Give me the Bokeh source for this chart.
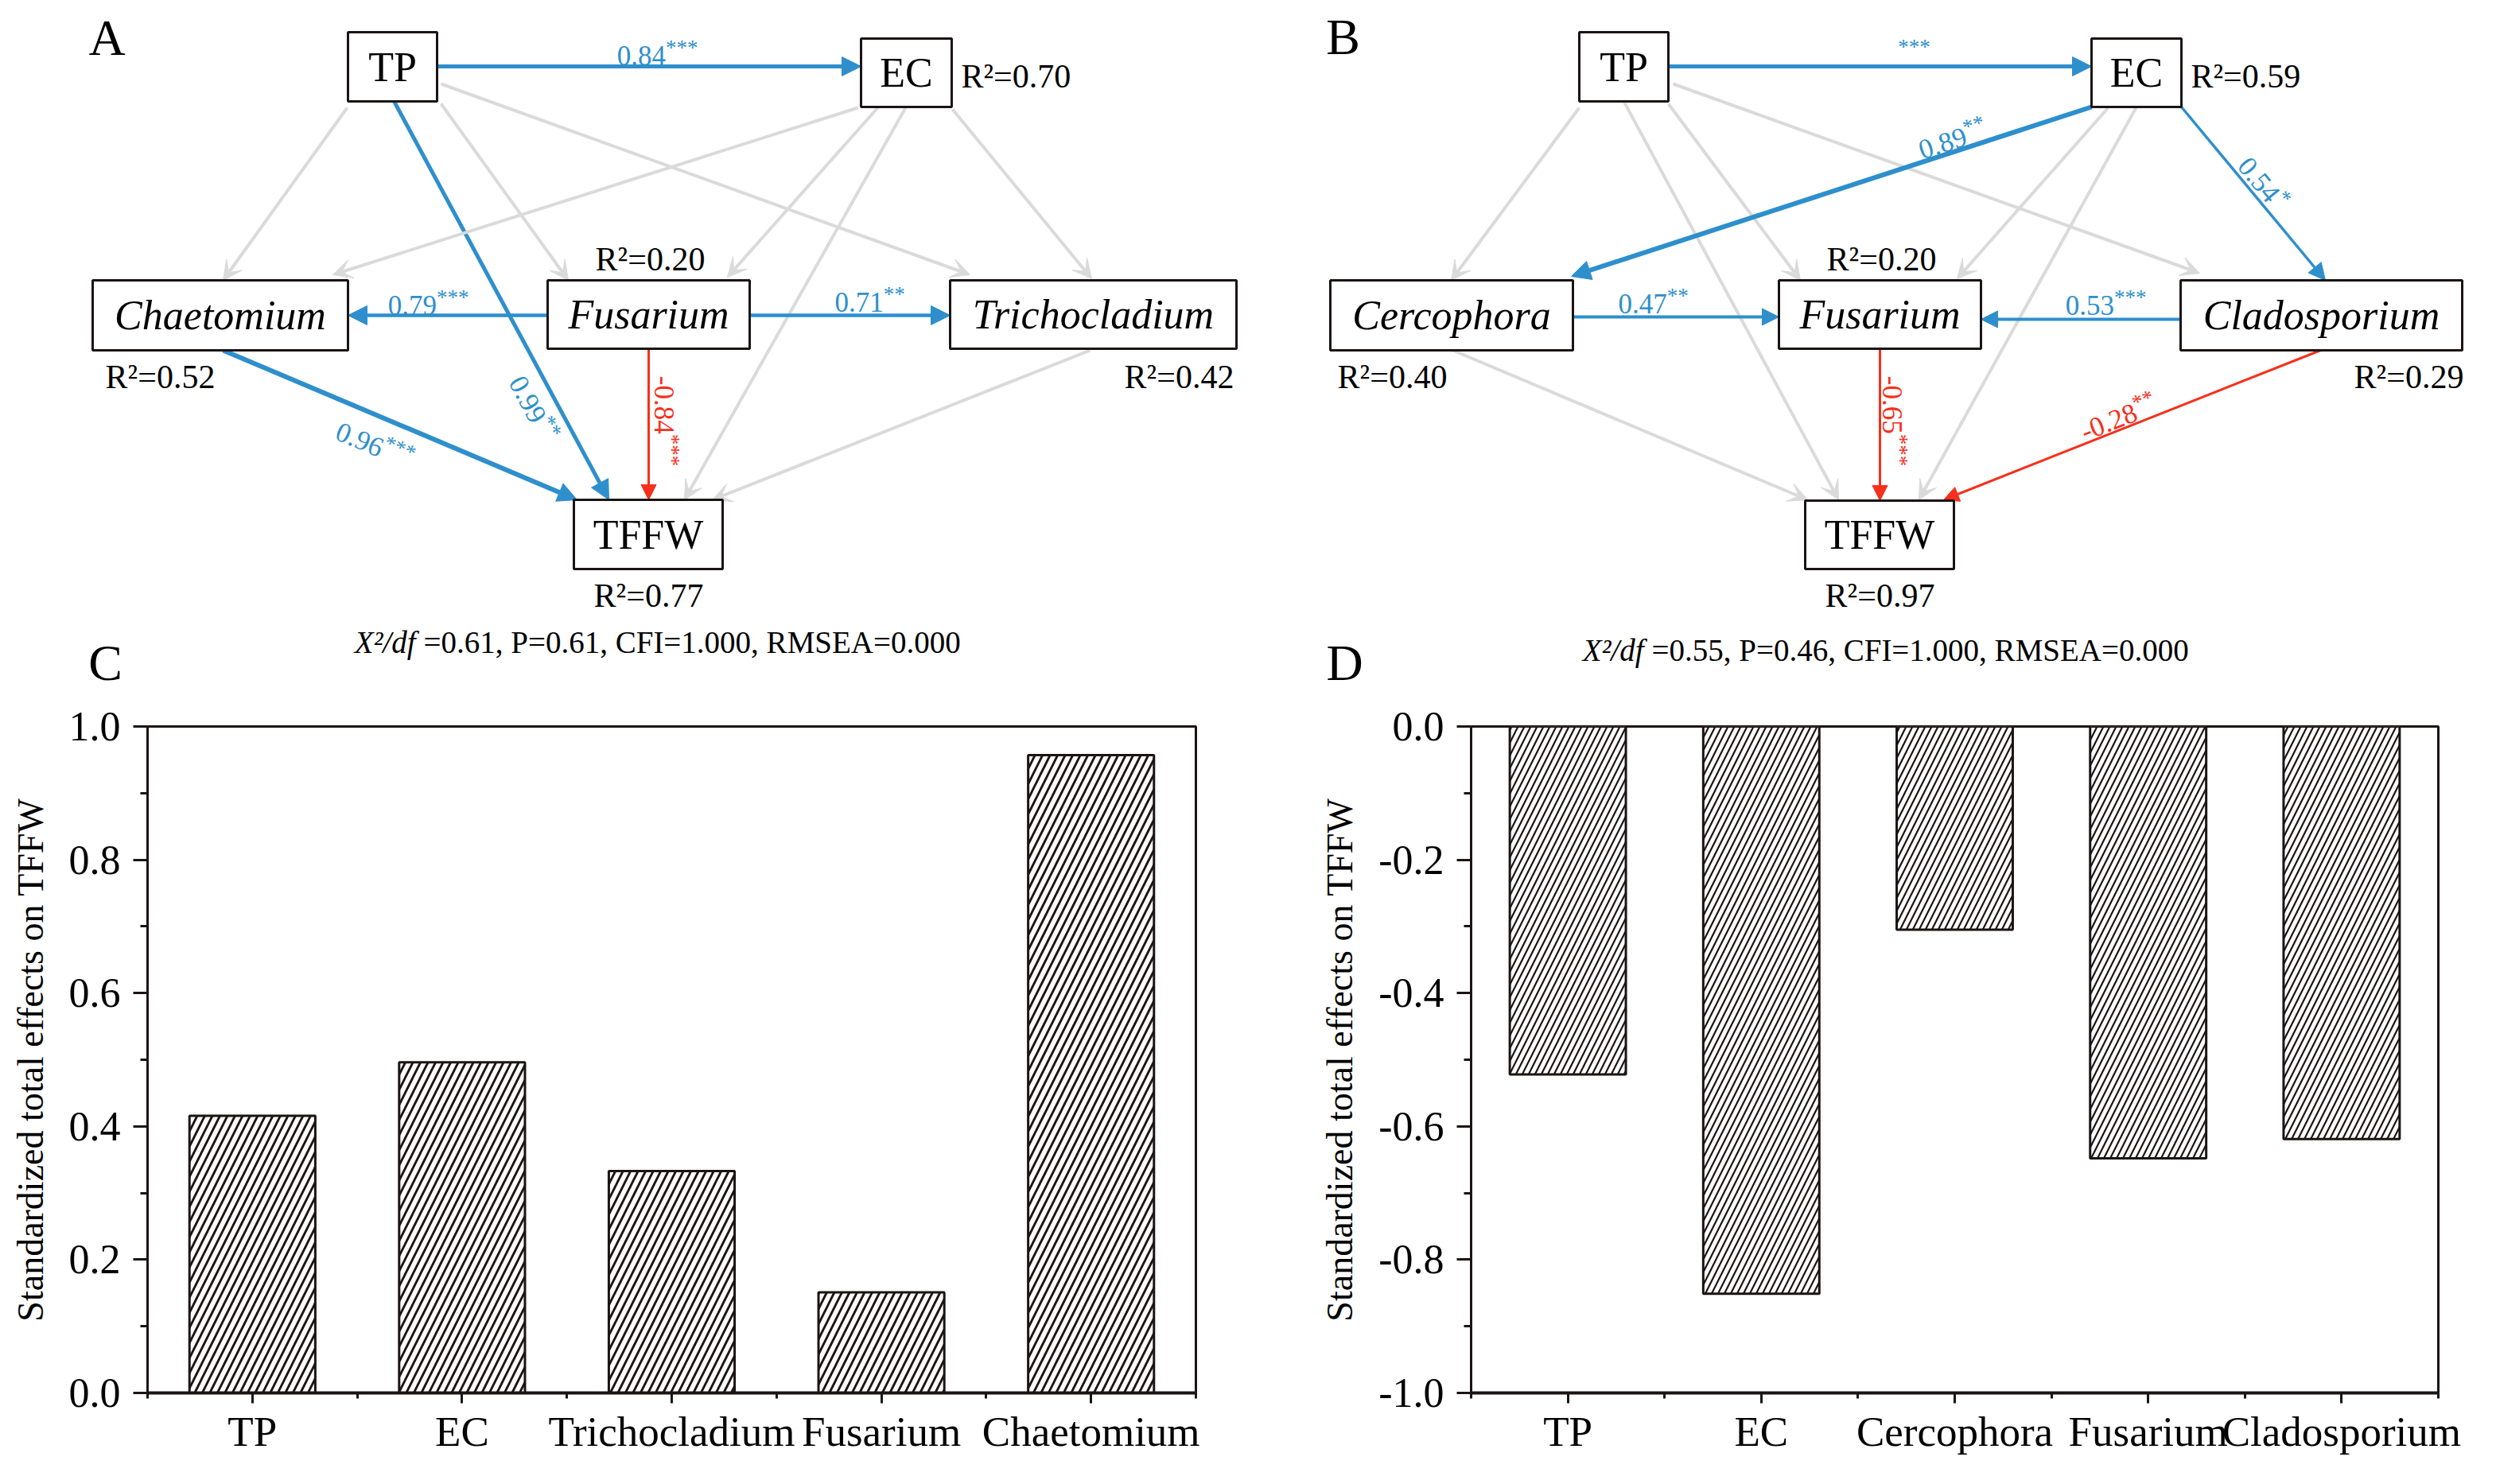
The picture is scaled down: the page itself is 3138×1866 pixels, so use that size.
import math
from bokeh.plotting import figure
from bokeh.models import (ColumnDataSource, Range1d, Arrow, NormalHead, VeeHead,
                          FixedTicker, PrintfTickFormatter)
from bokeh.layouts import column, row
from bokeh.embed import file_html
from bokeh.resources import INLINE
from bokeh.core.properties import value

# ---------------- data ----------------
A_NODES = ["TP", "EC", "Chaetomium", "Fusarium", "Trichocladium", "TFFW"]
A_R2 = [None, 0.70, 0.52, 0.20, 0.42, 0.77]
B_NODES = ["TP", "EC", "Cercophora", "Fusarium", "Cladosporium", "TFFW"]
B_R2 = [None, 0.59, 0.40, 0.20, 0.29, 0.97]
ITALIC_NODES = {"Chaetomium", "Fusarium", "Trichocladium", "Cercophora", "Cladosporium"}

A_EDGE_FROM = ["TP", "TP", "TP", "TP", "TP", "EC", "EC", "EC", "EC",
               "Fusarium", "Fusarium", "Fusarium", "Chaetomium", "Trichocladium"]
A_EDGE_TO = ["EC", "Chaetomium", "Fusarium", "Trichocladium", "TFFW", "Chaetomium",
             "Fusarium", "Trichocladium", "TFFW", "Chaetomium", "Trichocladium",
             "TFFW", "TFFW", "TFFW"]
A_EDGE_COEF = [0.84, None, None, None, 0.99, None, None, None, None, 0.79, 0.71, -0.84, 0.96, None]
A_EDGE_SIG = ["***", "", "", "", "**", "", "", "", "", "***", "**", "***", "***", ""]
A_EDGE_KIND = ["pos", "ns", "ns", "ns", "pos", "ns", "ns", "ns", "ns", "pos", "pos", "neg", "pos", "ns"]

B_EDGE_FROM = ["TP", "TP", "TP", "TP", "TP", "EC", "EC", "EC", "EC",
               "Cercophora", "Cladosporium", "Fusarium", "Cladosporium", "Cercophora"]
B_EDGE_TO = ["EC", "Cercophora", "Fusarium", "Cladosporium", "TFFW", "Cercophora",
             "Cladosporium", "Fusarium", "TFFW", "Fusarium", "Fusarium", "TFFW", "TFFW", "TFFW"]
B_EDGE_COEF = [None, None, None, None, None, 0.89, 0.54, None, None, 0.47, 0.53, -0.65, -0.28, None]
B_EDGE_SIG = ["***", "", "", "", "", "**", "*", "", "", "**", "***", "***", "**", ""]
B_EDGE_KIND = ["pos", "ns", "ns", "ns", "ns", "pos", "pos", "ns", "ns", "pos", "pos", "neg", "neg", "ns"]

A_FIT = [0.61, 0.61, 1.000, 0.000]   # chi2/df, P, CFI, RMSEA
B_FIT = [0.55, 0.46, 1.000, 0.000]

C_CATS = ["TP", "EC", "Trichocladium", "Fusarium", "Chaetomium"]
C_VALUES = [0.416, 0.496, 0.333, 0.151, 0.957]
D_CATS = ["TP", "EC", "Cercophora", "Fusarium", "Cladosporium"]
D_VALUES = [-0.522, -0.851, -0.305, -0.648, -0.619]

# ---------------- layout / style ----------------
SERIF = "Liberation Serif"
BLUE = "#2E8FCC"
RED = "#F5301C"
GREY = "#DADADA"
INK = "#1c1414"
TOP_H = 880
BOT_H = 970
W = 3120
FRAME_TOP, FRAME_BOTTOM = 913, 1751


def Y(y):
    return TOP_H - y


BOXES = {
    "A": {"TP": (437, 549, 40, 127), "EC": (1082, 1196, 48, 134),
          "Chaetomium": (116, 437, 352, 440), "Fusarium": (688, 942, 352, 438),
          "Trichocladium": (1194, 1554, 352, 438), "TFFW": (721, 908, 628, 715)},
    "B": {"TP": (1985, 2097, 40, 127), "EC": (2629, 2742, 48, 134),
          "Cercophora": (1672, 1977, 352, 440), "Fusarium": (2236, 2490, 352, 438),
          "Cladosporium": (2741, 3095, 352, 440), "TFFW": (2269, 2456, 629, 715)},
}
R2_POS = {
    "A": [None, (1208, 95, "left"), (201, 473, "center"), (817, 325, "center"),
          (1482, 473, "center"), (815, 748, "center")],
    "B": [None, (2754, 95, "left"), (1750, 473, "center"), (2365, 325, "center"),
          (3028, 473, "center"), (2363, 748, "center")],
}
EDGE_GEOM = {
    "A": [(549, 83, 1082, 83, 5), (436, 135, 280, 352, 4), (554, 130, 714, 352, 4),
          (554, 105, 1219, 345, 4), (495, 127, 765, 628, 5), (1078, 135, 418, 345, 4),
          (1103, 135, 914, 348, 4), (1197, 137, 1372, 350, 4), (1138, 135, 860, 628, 4),
          (688, 396, 437, 396, 4.5), (942, 396, 1194, 396, 4.5), (815, 438, 815, 628, 3),
          (280, 440, 725, 628, 6), (1370, 440, 895, 628, 4)],
    "B": [(2097, 83, 2629, 83, 5), (1985, 135, 1824, 352, 4), (2097, 130, 2263, 352, 4),
          (2103, 105, 2765, 343, 4), (2041, 127, 2311, 628, 4), (2629, 134, 1975, 347, 6),
          (2742, 134, 2923, 352, 3.5), (2650, 135, 2460, 350, 4), (2685, 135, 2412, 628, 4),
          (1977, 398, 2236, 398, 4), (2741, 401, 2490, 401, 4), (2363, 438, 2363, 629, 3),
          (2917, 440, 2443, 628, 3), (1826, 440, 2272, 628, 4)],
}
LABEL_POS = {
    "A": {0: (826, 58), 4: (680, 508), 9: (538, 372), 10: (1093, 368), 12: (475, 549), 11: (846, 529)},
    "B": {0: (2406, 45), 5: (2451, 164), 6: (2853, 223), 9: (2078, 370), 10: (2647, 372),
          11: (2390, 529), 12: (2659, 514)},
}
LETTERS = [("A", 134, 47), ("B", 1688, 46), ("C", 132, 833), ("D", 1690, 833)]
FIT_ANCHOR = {"A": (522, 807), "B": (2066, 817)}

PANELS = {
    "A": (A_NODES, A_R2, A_EDGE_COEF, A_EDGE_SIG, A_EDGE_KIND, A_FIT),
    "B": (B_NODES, B_R2, B_EDGE_COEF, B_EDGE_SIG, B_EDGE_KIND, B_FIT),
}


def est_w(s, fs):
    w = {".": 0.25, "-": 0.333, "*": 0.5}
    return sum(w.get(ch, 0.5) for ch in s) * fs


# ---------------- top figure: path diagrams ----------------
top = figure(width=W, height=TOP_H, x_range=Range1d(0, W), y_range=Range1d(0, TOP_H),
             output_backend="svg", toolbar_location=None,
             x_axis_location=None, y_axis_location=None,
             min_border_left=0, min_border_right=0, min_border_top=0, min_border_bottom=0)
top.grid.visible = False
top.outline_line_color = None

FS_N, FS_S = 35, 27
num_d = dict(x=[], y=[], t=[], a=[], c=[])
sig_d = dict(x=[], y=[], t=[], a=[], c=[])

for pk, (nodes, r2, coefs, sigs, kinds, fit) in PANELS.items():
    # edges (arrows)
    for i, (x0, y0, x1, y1, lw) in enumerate(EDGE_GEOM[pk]):
        kind = kinds[i]
        color = {"pos": BLUE, "neg": RED, "ns": GREY}[kind]
        if kind == "ns":
            head = VeeHead(size=24, fill_color=GREY, line_color=GREY, line_width=1)
        elif kind == "neg":
            head = NormalHead(size=19, fill_color=RED, line_color=RED, line_width=1)
        else:
            head = NormalHead(size=24 if lw >= 4.5 else 21, fill_color=BLUE, line_color=BLUE, line_width=1)
        top.add_layout(Arrow(end=head, x_start=x0, y_start=Y(y0), x_end=x1, y_end=Y(y1),
                             line_color=color, line_width=lw, level="underlay"))
        # coefficient labels
        if i in LABEL_POS[pk]:
            cx, cy = LABEL_POS[pk][i]
            dx, dy = x1 - x0, y1 - y0
            ang = -math.atan2(dy, dx)
            if ang > math.pi / 2 + 1e-6:
                ang -= math.pi
            if ang < -math.pi / 2 - 1e-6:
                ang += math.pi
            ux, uy = math.cos(ang), -math.sin(ang)
            nx, ny = -math.sin(ang), -math.cos(ang)
            num = "" if coefs[i] is None else f"{coefs[i]:.2f}"
            sig = sigs[i]
            lc = RED if kind == "neg" else BLUE
            wn, ws = est_w(num, FS_N), est_w(sig, FS_S)
            if num:
                w = wn + ws
                bx = cx - ux * w / 2 - nx * 0.33 * FS_N
                by = cy - uy * w / 2 - ny * 0.33 * FS_N
                num_d["x"].append(bx); num_d["y"].append(Y(by)); num_d["t"].append(num)
                num_d["a"].append(ang); num_d["c"].append(lc)
                sx = bx + ux * wn + nx * 0.28 * FS_N
                sy = by + uy * wn + ny * 0.28 * FS_N
            else:
                sx = cx - ux * ws / 2 - nx * 0.5 * FS_S
                sy = cy - uy * ws / 2 - ny * 0.5 * FS_S
            sig_d["x"].append(sx); sig_d["y"].append(Y(sy)); sig_d["t"].append(sig)
            sig_d["a"].append(ang); sig_d["c"].append(lc)

    # node boxes
    bx = BOXES[pk]
    top.quad(left=[bx[n][0] for n in nodes], right=[bx[n][1] for n in nodes],
             top=[Y(bx[n][2]) for n in nodes], bottom=[Y(bx[n][3]) for n in nodes],
             fill_color="white", line_color=INK, line_width=3)
    for style in ("normal", "italic"):
        sel = [n for n in nodes if (n in ITALIC_NODES) == (style == "italic")]
        top.text(x=[(bx[n][0] + bx[n][1]) / 2 for n in sel],
                 y=[Y((bx[n][2] + bx[n][3]) / 2) for n in sel], text=sel,
                 text_font=value(SERIF), text_font_size="52px", text_font_style=style,
                 text_align="center", text_baseline="middle", text_color="black")
    # R2 labels
    for align in ("left", "center"):
        xs, ys, ts = [], [], []
        for n, v, pos in zip(nodes, r2, R2_POS[pk]):
            if v is None or pos[2] != align:
                continue
            xs.append(pos[0]); ys.append(Y(pos[1])); ts.append(f"R²={v:.2f}")
        top.text(x=xs, y=ys, text=ts, text_font=value(SERIF), text_font_size="42px",
                 text_align=align, text_baseline="middle", text_color="black")
    # model fit
    ax_, ay_ = FIT_ANCHOR[pk]
    top.text(x=[ax_], y=[Y(ay_)], text=["X²/df"], text_font=value(SERIF), text_font_size="39px",
             text_font_style="italic", text_align="right", text_baseline="middle", text_color="black")
    top.text(x=[ax_ + 10], y=[Y(ay_)],
             text=[f"={fit[0]:.2f}, P={fit[1]:.2f}, CFI={fit[2]:.3f}, RMSEA={fit[3]:.3f}"],
             text_font=value(SERIF), text_font_size="39px",
             text_align="left", text_baseline="middle", text_color="black")

top.text(x="x", y="y", text="t", angle="a", text_color="c", source=ColumnDataSource(num_d),
         text_font=value(SERIF), text_font_size=f"{FS_N}px", text_align="left",
         text_baseline="alphabetic")
top.text(x="x", y="y", text="t", angle="a", text_color="c", source=ColumnDataSource(sig_d),
         text_font=value(SERIF), text_font_size=f"{FS_S}px", text_align="left",
         text_baseline="alphabetic")

top.text(x=[l[1] for l in LETTERS], y=[Y(l[2]) for l in LETTERS], text=[l[0] for l in LETTERS],
         text_font=value(SERIF), text_font_size="64px", text_align="center",
         text_baseline="middle", text_color="black")


# ---------------- bar charts ----------------
def bar_panel(cats, vals, y0, y1, width, mbl, mbr, hscale, hweight):
    p = figure(width=width, height=BOT_H, x_range=Range1d(0.5, len(cats) + 0.5),
               y_range=Range1d(y0, y1), output_backend="svg", toolbar_location=None,
               min_border_left=mbl, min_border_right=mbr,
               min_border_top=FRAME_TOP - TOP_H,
               min_border_bottom=BOT_H - (FRAME_BOTTOM - TOP_H))
    xs = list(range(1, len(cats) + 1))
    src = ColumnDataSource(dict(x=xs, top=vals))
    p.vbar(x="x", top="top", bottom=0, width=0.6, source=src, fill_color="white",
           line_color=INK, line_width=3, hatch_pattern="/", hatch_color=INK,
           hatch_scale=hscale, hatch_weight=hweight)
    p.xgrid.visible = False
    p.ygrid.visible = False
    p.outline_line_color = INK
    p.outline_line_width = 3
    xa, ya = p.xaxis[0], p.yaxis[0]
    xa.ticker = FixedTicker(ticks=xs, minor_ticks=[i + 0.5 for i in range(0, len(cats) + 1)])
    xa.major_label_overrides = {x: c for x, c in zip(xs, cats)}
    yt = [round(y0 + i * 0.2, 1) for i in range(6)]
    ya.ticker = FixedTicker(ticks=yt, minor_ticks=[round(y0 + 0.1 + 0.2 * i, 1) for i in range(5)])
    ya.formatter = PrintfTickFormatter(format="%.1f")
    for ax in (xa, ya):
        ax.axis_line_color = INK
        ax.major_tick_line_color = INK
        ax.minor_tick_line_color = INK
        ax.major_tick_line_width = 3
        ax.minor_tick_line_width = 3
        ax.major_tick_in = 0
        ax.minor_tick_in = 0
        ax.major_label_text_font = SERIF
        ax.major_label_text_color = "black"
    xa.axis_line_width = 4
    ya.axis_line_width = 3
    xa.major_tick_out = 13
    xa.minor_tick_out = 7
    ya.major_tick_out = 18
    ya.minor_tick_out = 9
    xa.major_label_text_font_size = "53px"
    ya.major_label_text_font_size = "52px"
    xa.major_label_standoff = 6
    ya.major_label_standoff = 16
    ya.axis_label = "Standardized total effects on TFFW"
    ya.axis_label_text_font = SERIF
    ya.axis_label_text_font_size = "46px"
    ya.axis_label_text_font_style = "normal"
    ya.axis_label_text_color = "black"
    ya.axis_label_standoff = 20
    return p


figC = bar_panel(C_CATS, C_VALUES, 0.0, 1.0, 1560, 185, 57, 19, 2.8)
figD = bar_panel(D_CATS, D_VALUES, -1.0, 0.0, 1560, 289, 55, 16, 2.2)

layout = column(top, row(figC, figD))
open("out.html", "w").write(file_html(layout, INLINE, "SEM and total effects"))
